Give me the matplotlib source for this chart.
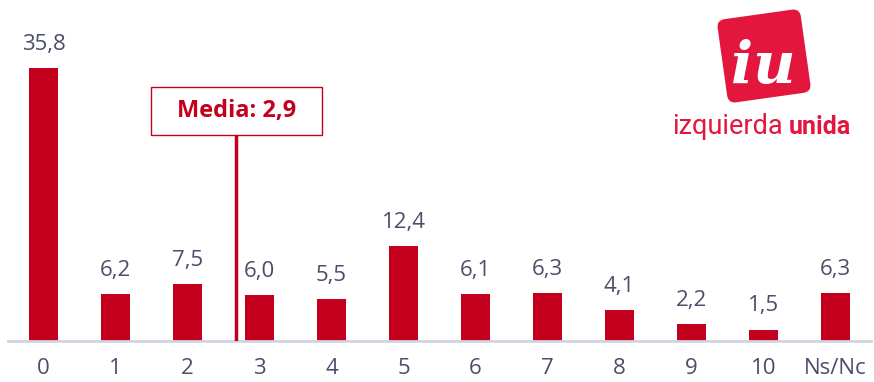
import matplotlib
matplotlib.use("Agg")
import matplotlib.pyplot as plt
from matplotlib.patches import FancyBboxPatch, Rectangle
import matplotlib.transforms as mtransforms

categories = ["0", "1", "2", "3", "4", "5", "6", "7", "8", "9", "10", "Ns/Nc"]
values = [35.8, 6.2, 7.5, 6.0, 5.5, 12.4, 6.1, 6.3, 4.1, 2.2, 1.5, 6.3]
value_labels = ["35,8", "6,2", "7,5", "6,0", "5,5", "12,4", "6,1", "6,3", "4,1", "2,2", "1,5", "6,3"]
media_label = "Media: 2,9"
media_pos = 2.68

bar_color = "#C4001F"
logo_red = "#E3173E"
text_color = "#4A4E69"

fig = plt.figure(figsize=(8.74, 3.82), dpi=100)
ax = fig.add_axes([0, 41/382, 1, 341/382])
x = list(range(len(categories)))
ax.bar(x, values, width=0.40, color=bar_color, zorder=2)
ax.set_xlim(-0.605, 11.535)
ax.set_ylim(0, 44.7)
for xi, v, lab in zip(x, values, value_labels):
    ax.text(xi, v + 3.1, lab, ha="center", va="center", fontsize=16, color=text_color,
            family="Open Sans")
ax.set_xticks(x)
ax.set_xticklabels(categories, fontsize=16, color=text_color, family="Open Sans")
ax.tick_params(axis="x", length=0, pad=12)
ax.set_yticks([])
for s in ["top", "right", "left"]:
    ax.spines[s].set_visible(False)
ax.spines["bottom"].set_color("#D0D3E0")
ax.spines["bottom"].set_linewidth(2)
ax.spines["bottom"].set_bounds(-0.5, 11.5)

# media line and box
ax.plot([media_pos, media_pos], [0, 27.0], color=bar_color, lw=2.5, zorder=3)
ax.add_patch(Rectangle((media_pos - 1.19, 27.0), 2.38, 6.3, fc="white", ec=bar_color,
                       lw=1, zorder=4))
ax.text(media_pos, 30.15, media_label, ha="center", va="center", fontsize=17,
        fontweight="bold", color=bar_color, family="Open Sans", zorder=5)

# logo
lax = fig.add_axes([0, 0, 1, 1], facecolor="none")
lax.set_xlim(0, 874)
lax.set_ylim(382, 0)
lax.axis("off")
rot = mtransforms.Affine2D().rotate_deg_around(764, 56, -8) + lax.transData
box = FancyBboxPatch((722, 14), 84, 84, boxstyle="round,pad=0,rounding_size=8",
                     fc=logo_red, ec="none", transform=rot)
lax.add_patch(box)
lax.text(763, 67, "iu", ha="center", va="center", fontsize=42, fontweight="bold",
         style="italic", color="white", family="DejaVu Serif")
lax.text(672, 127, "izquierda", ha="left", va="center", fontsize=19.5, color=logo_red,
         family="Roboto")
lax.text(851, 127, "unida", ha="right", va="center", fontsize=18, color=logo_red,
         family="Roboto", fontweight="bold")

fig.savefig("out.png", dpi=100)
